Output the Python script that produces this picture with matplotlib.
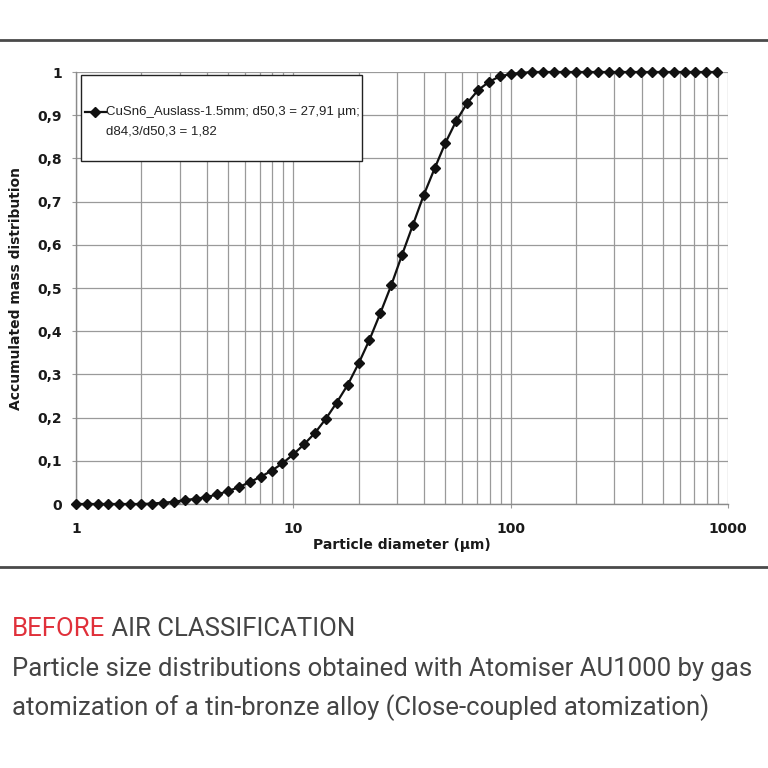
import matplotlib
matplotlib.use("Agg")
import matplotlib.pyplot as plt
from matplotlib.lines import Line2D
from matplotlib.patches import Rectangle
from matplotlib.ticker import FixedLocator, LogLocator, NullFormatter

# Particle diameter classes (um)
diameters = [1, 1.12, 1.26, 1.41, 1.58, 1.78, 2.0, 2.24, 2.51, 2.82,
             3.16, 3.55, 3.98, 4.47, 5.01, 5.62, 6.31, 7.08, 7.94, 8.91,
             10, 11.2, 12.6, 14.1, 15.8, 17.8, 20.0, 22.4, 25.1, 28.2,
             31.6, 35.5, 39.8, 44.7, 50.1, 56.2, 63.1, 70.8, 79.4, 89.1,
             100, 112, 126, 141, 158, 178, 200, 224, 251, 282,
             316, 355, 398, 447, 501, 562, 631, 708, 794, 891]

# Accumulated mass distribution
q3 = [0, 0, 0, 0, 0, 0, 0, 0.001, 0.003, 0.005,
      0.009, 0.012, 0.016, 0.022, 0.030, 0.039, 0.051, 0.063, 0.077, 0.094,
      0.115, 0.138, 0.165, 0.197, 0.234, 0.276, 0.326, 0.380, 0.441, 0.506,
      0.576, 0.646, 0.715, 0.777, 0.836, 0.887, 0.928, 0.958, 0.977, 0.990,
      0.995, 0.998, 1, 1, 1, 1, 1, 1, 1, 1,
      1, 1, 1, 1, 1, 1, 1, 1, 1, 1]

x_ticks = [1, 10, 100, 1000]
x_ticklabels = ["1", "10", "100", "1000"]
y_ticks = [0, 0.1, 0.2, 0.3, 0.4, 0.5, 0.6, 0.7, 0.8, 0.9, 1]
y_ticklabels = ["0", "0,1", "0,2", "0,3", "0,4", "0,5", "0,6", "0,7", "0,8", "0,9", "1"]

legend_lines = ["CuSn6_Auslass-1.5mm; d50,3 = 27,91 \u00b5m;", "d84,3/d50,3 = 1,82"]
caption_red = "BEFORE"
caption_rest = " AIR CLASSIFICATION"
caption_lines = ["Particle size distributions obtained with Atomiser AU1000 by gas",
                 "atomization of a tin-bronze alloy (Close-coupled atomization)"]

W = H = 768
fig = plt.figure(figsize=(7.68, 7.68), dpi=100)
fig.patch.set_facecolor("white")

ax = fig.add_axes([76 / W, 1 - 504 / H, 652 / W, 432 / H])
ax.set_xscale("log")
ax.set_xlim(1, 1000)
ax.set_ylim(0, 1)

grid_col = "#9a9a9a"
ax.xaxis.set_major_locator(FixedLocator(x_ticks))
ax.xaxis.set_minor_locator(LogLocator(base=10, subs=range(2, 10)))
ax.xaxis.set_minor_formatter(NullFormatter())
ax.set_xticklabels(x_ticklabels)
ax.set_yticks(y_ticks)
ax.set_yticklabels(y_ticklabels)
ax.grid(True, which="both", axis="x", color=grid_col, lw=0.9)
ax.grid(True, which="major", axis="y", color=grid_col, lw=0.9)
ax.set_axisbelow(True)

for s in ["top", "right"]:
    ax.spines[s].set_visible(False)
for s in ["left", "bottom"]:
    ax.spines[s].set_color("#8a8a8a")
    ax.spines[s].set_linewidth(1.0)

ax.tick_params(axis="both", which="major", length=3, color=grid_col,
               labelsize=10, labelcolor="#1a1a1a")
ax.tick_params(axis="x", which="major", pad=10)
ax.tick_params(axis="y", which="major", pad=7)
ax.tick_params(axis="x", which="minor", length=0)
for lbl in ax.get_xticklabels() + ax.get_yticklabels():
    lbl.set_fontweight("bold")

ax.plot(diameters, q3, color="#111111", lw=1.6, marker="D", ms=4.8,
        mfc="#111111", mec="#111111", clip_on=False, zorder=5)

ax.set_xlabel("Particle diameter (\u00b5m)", fontsize=10, fontweight="bold", color="#1a1a1a")
ax.set_ylabel("Accumulated mass distribution", fontsize=10, fontweight="bold", color="#1a1a1a")
ax.xaxis.set_label_coords(0.5, -0.078)
ax.yaxis.set_label_coords(-0.082, 0.5)

# legend box drawn by hand
box = Rectangle((81 / W, 1 - 161 / H), 281 / W, 86 / H, transform=fig.transFigure,
                facecolor="white", edgecolor="#222222", lw=1.0, zorder=10)
fig.add_artist(box)
fig.add_artist(Line2D([85 / W, 106 / W], [1 - 112 / H] * 2, transform=fig.transFigure,
                      color="#111111", lw=1.6, zorder=11))
fig.add_artist(Line2D([95 / W], [1 - 112 / H], transform=fig.transFigure,
                      color="#111111", marker="D", ms=4.8, lw=0, zorder=11))
fig.text(106 / W, 1 - 112 / H, legend_lines[0], fontsize=9.5, family="Liberation Sans",
         color="#222222", va="center", ha="left", zorder=11)
fig.text(106 / W, 1 - 131 / H, legend_lines[1], fontsize=9.5, family="Liberation Sans",
         color="#222222", va="center", ha="left", zorder=11)

# separator rules
for yy in [40, 567]:
    fig.add_artist(Line2D([0, 1], [1 - yy / H] * 2, transform=fig.transFigure,
                          color="#4a4a4a", lw=2.0))

# caption
t = fig.text(12 / W, 1 - 636 / H, caption_red, fontsize=18.5, family="Roboto",
             color="#e0303a", va="baseline", ha="left")
fig.canvas.draw()
bb = t.get_window_extent()
fig.text(bb.x1 / W, 1 - 636 / H, caption_rest, fontsize=18.5, family="Roboto",
         color="#444444", va="baseline", ha="left")
fig.text(12 / W, 1 - 676 / H, caption_lines[0], fontsize=18.5, family="Roboto",
         color="#444444", va="baseline", ha="left")
fig.text(12 / W, 1 - 715 / H, caption_lines[1], fontsize=18.5, family="Roboto",
         color="#444444", va="baseline", ha="left")

fig.savefig("out.png", dpi=100, facecolor="white")
